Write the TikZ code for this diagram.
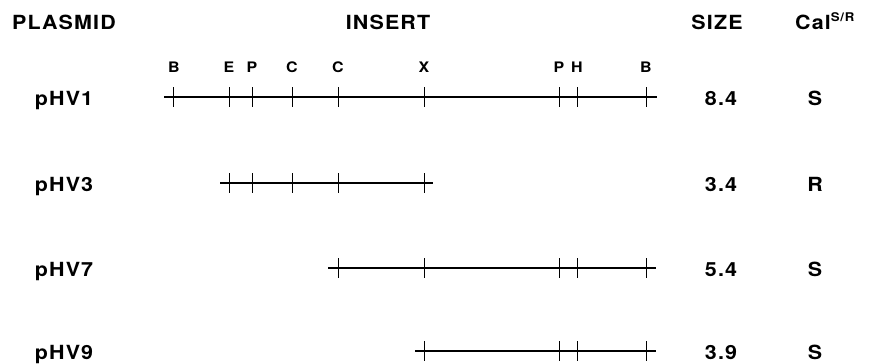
\documentclass[tikz,border=0pt]{standalone}
\usepackage{fontspec}
\setmainfont{TeX Gyre Heros}[FakeStretch=1.1, LetterSpace=6]
\newcommand{\hdrfont}{\fontsize{19.5}{22}\selectfont\bfseries}
\newcommand{\supfont}{\fontsize{12}{13}\selectfont\bfseries}
\begin{document}
\begin{tikzpicture}[x=1pt,y=-1pt,
  hdr/.style={font=\hdrfont, inner sep=0pt, anchor=base},
  site/.style={font=\fontsize{14.5}{16}\selectfont\bfseries, inner sep=0pt, anchor=base},
  insert/.style={line width=1.4pt},
  cut/.style={line width=1pt}]
  \useasboundingbox (0,0) rectangle (870,364);

  % column headers
  \node[hdr] (hplasmid) at (64,29) {PLASMID};
  \node[hdr] (hinsert) at (388,29) {INSERT};
  \node[hdr] (hsize) at (717,29) {SIZE};
  \node[hdr, anchor=base west] (hcal) at (795,29) {Cal\raisebox{8pt}{\supfont S/R}};

  % restriction site labels along the map
  \foreach \n/\x/\l in {b1/174/B, e/229/E, p1/252/P, c1/292/C, c2/338/C, x/424/X, p2/559/P, h/577/H, b2/646/B}{
    \node[site] (lab-\n) at (\x,72) {\l};
  }

  % one row per plasmid: name, insert line, cut sites, size, phenotype
  \foreach \r/\y/\a/\b/\sz/\ph/\cuts in {
      1/97/164/657/8.4/S/{173,229,252,292,338,424,559,577,646},
      3/183/220/433/3.4/R/{229,252,292,338,424},
      7/268/328/656/5.4/S/{338,424,559,577,646},
      9/351/415/656/3.9/S/{424,559,577,646}}{
    \node[hdr] (name\r) at (64,\y+8.5) {pHV\r};
    \coordinate (start\r) at (\a,\y);
    \coordinate (end\r) at (\b,\y);
    \draw[insert] (start\r) -- (end\r);
    \foreach \c in \cuts {
      \draw[cut] (\c,\y-10) -- (\c,\y+10);
    }
    \node[hdr] (size\r) at (721,\y+8.5) {\sz};
    \node[hdr] (cal\r) at (815,\y+8.5) {\ph};
  }
\end{tikzpicture}
\end{document}
